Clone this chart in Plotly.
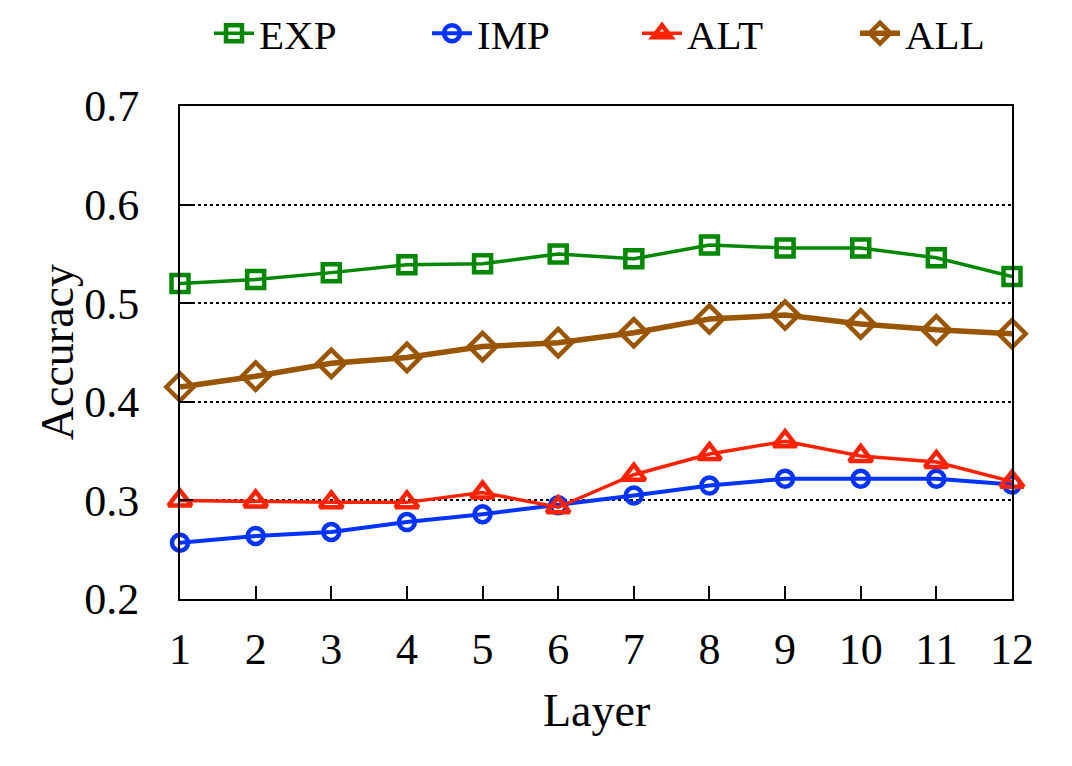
import plotly.graph_objects as go

layers = list(range(1, 13))
exp_acc = [0.520, 0.524, 0.531, 0.539, 0.540, 0.550, 0.545, 0.559, 0.556, 0.556, 0.546, 0.527]
imp_acc = [0.257, 0.264, 0.268, 0.278, 0.286, 0.295, 0.305, 0.315, 0.322, 0.322, 0.322, 0.316]
alt_acc = [0.300, 0.299, 0.298, 0.298, 0.308, 0.293, 0.326, 0.347, 0.360, 0.345, 0.339, 0.319]
all_acc = [0.415, 0.426, 0.439, 0.445, 0.456, 0.460, 0.470, 0.484, 0.488, 0.479, 0.473, 0.469]
y_ticks = [0.2, 0.3, 0.4, 0.5, 0.6, 0.7]

FONT = "Liberation Serif"

# name, values, colour, symbol, marker size, line width, legend entry width
series = [
    ("EXP", exp_acc, "rgb(0,136,0)", "square-open", 17, 3.5, 163),
    ("IMP", imp_acc, "rgb(0,51,255)", "circle-open", 16, 4, 155),
    ("ALT", alt_acc, "rgb(255,34,0)", "triangle-up-open", 20, 3.5, 163),
    ("ALL", all_acc, "rgb(153,85,0)", "diamond-open", 21, 5.5, 85),
]

fig = go.Figure()
for name, vals, color, sym, size, lw, lgw in series:
    fig.add_trace(
        go.Scatter(
            x=layers,
            y=vals,
            name=name,
            mode="lines+markers",
            line=dict(color=color, width=lw),
            marker=dict(
                symbol=sym,
                size=size,
                color=color,
                line=dict(color=color, width=4.5),
            ),
            legendwidth=lgw,
            cliponaxis=False,
        )
    )

axis_style = dict(
    ticks="inside",
    ticklen=13,
    tickwidth=2,
    tickcolor="black",
    showline=True,
    linecolor="black",
    linewidth=2,
    mirror=True,
    zeroline=False,
    automargin=False,
    tickfont=dict(family=FONT, size=44, color="black"),
)

fig.update_xaxes(
    range=[1, 12],
    tickvals=layers,
    tickangle=0,
    showgrid=False,
    ticklabelstandoff=10,
    **axis_style,
)
fig.update_yaxes(
    range=[0.2, 0.7],
    tickvals=y_ticks,
    tickformat=".1f",
    showgrid=True,
    gridcolor="black",
    gridwidth=1.5,
    griddash="dot",
    ticklabelstandoff=30,
    **axis_style,
)

# axis titles as annotations
title_font = dict(family=FONT, size=46, color="black")
fig.add_annotation(
    text="Layer", xref="paper", yref="paper", x=0.5, y=-0.226,
    xanchor="center", yanchor="middle", showarrow=False, font=title_font,
)
fig.add_annotation(
    text="Accuracy", xref="paper", yref="paper", x=-0.147, y=0.5,
    xanchor="center", yanchor="middle", textangle=-90, showarrow=False,
    font=title_font,
)

fig.update_layout(
    width=1064,
    height=758,
    plot_bgcolor="white",
    paper_bgcolor="white",
    margin=dict(l=172, r=60, t=98, b=167, autoexpand=False),
    font=dict(family=FONT, size=41, color="black"),
    legend=dict(
        orientation="h",
        x=201 / 1064,
        y=1.215,
        xref="container",
        yref="paper",
        xanchor="left",
        yanchor="top",
        entrywidthmode="pixels",
        itemwidth=40,
        font=dict(family=FONT, size=41, color="black"),
        bgcolor="rgba(0,0,0,0)",
    ),
)

fig.write_html("out.html")
